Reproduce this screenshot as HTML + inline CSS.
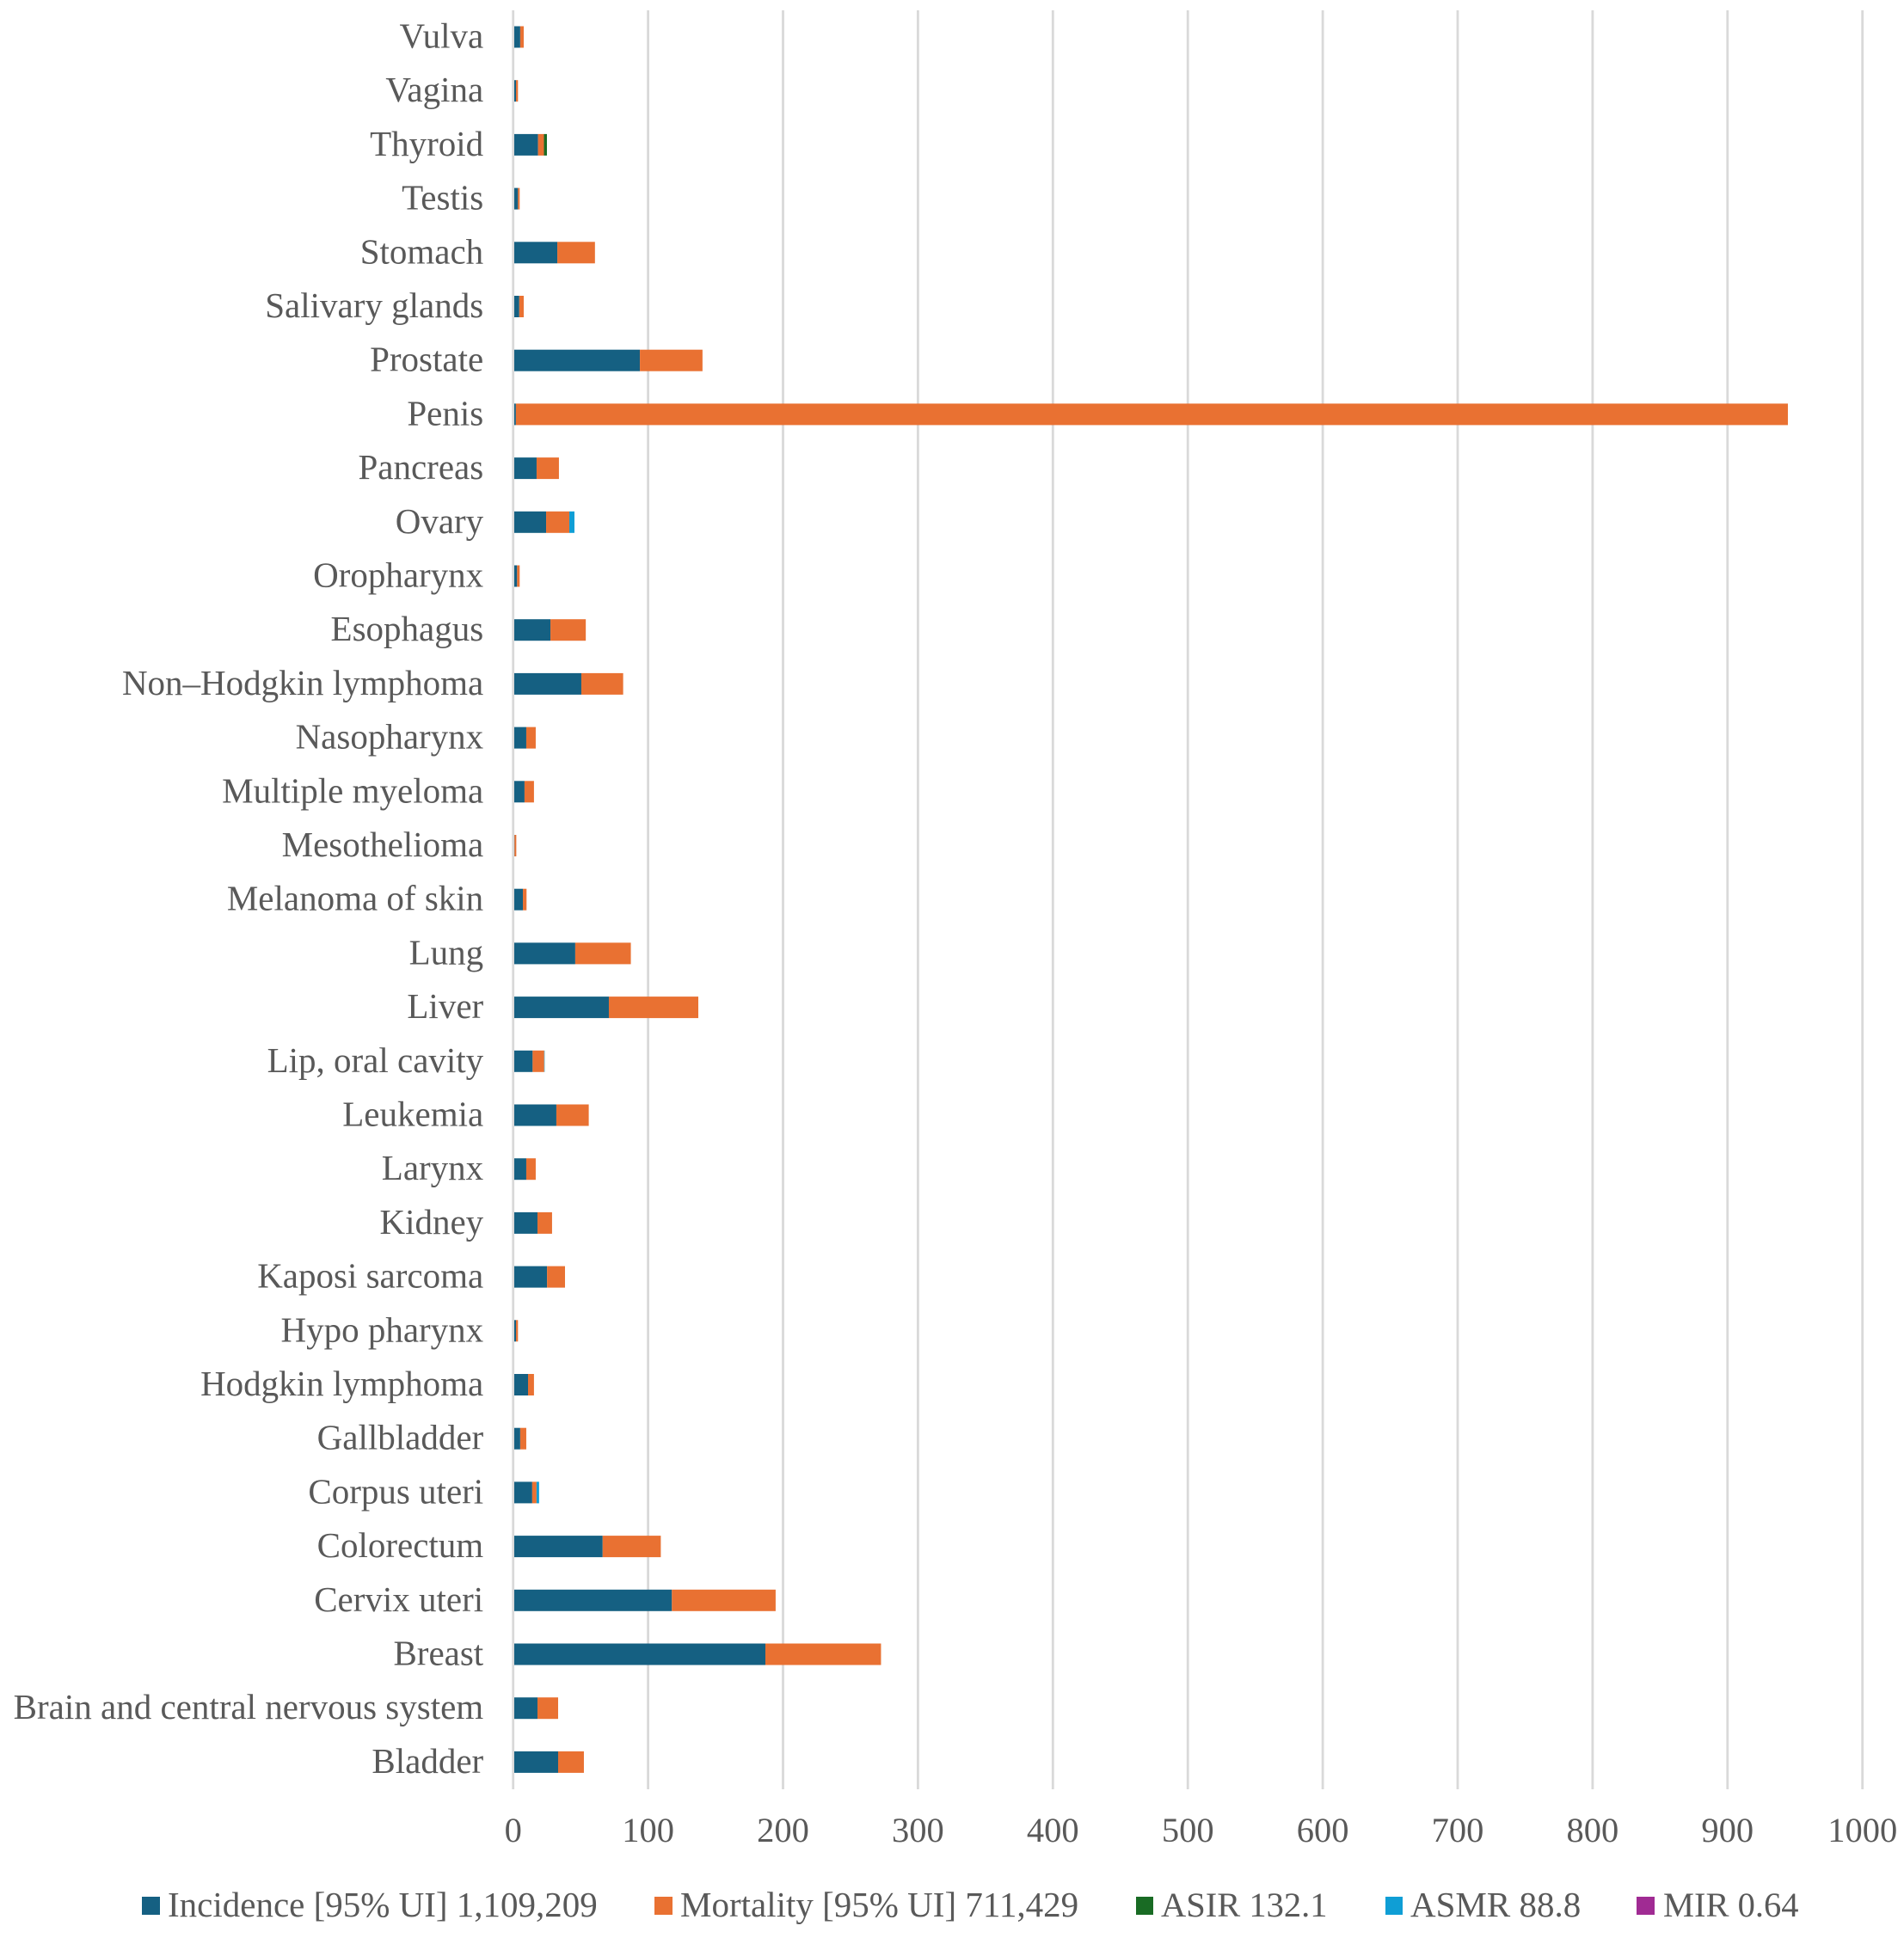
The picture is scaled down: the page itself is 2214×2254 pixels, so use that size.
<!DOCTYPE html>
<html lang="en">
<head>
<meta charset="utf-8">
<title>Cancer burden by site</title>
<style>
  html, body { margin: 0; padding: 0; background: #ffffff; }
  svg { display: block; }
  text { font-family: "Liberation Serif", serif; fill: #595959; font-size: 41px; white-space: pre; }
  #xLabels text { font-size: 40.5px; }
  text.legend-short { font-size: 40.5px; }
</style>
</head>
<body>
<svg id="chart" xmlns="http://www.w3.org/2000/svg" width="2214" height="2254" viewBox="0 0 2214 2254">
  <rect x="0" y="0" width="2214" height="2254" fill="#ffffff"/>
  <g id="grid"></g>
  <g id="bars"></g>
  <g id="yLabels"></g>
  <g id="xLabels"></g>
  <g>
    <g>
      <rect x="165" y="2206" width="21" height="21" fill="#156082"/>
      <text x="195" y="2229">Incidence [95% UI] 1,109,209</text>
    </g>
    <g>
      <rect x="761" y="2206" width="21" height="21" fill="#E97132"/>
      <text x="791" y="2229">Mortality [95% UI] 711,429</text>
    </g>
    <g>
      <rect x="1321" y="2206" width="20" height="21" fill="#196B24"/>
      <text class="legend-short" x="1350" y="2229">ASIR 132.1</text>
    </g>
    <g>
      <rect x="1611" y="2206" width="20" height="21" fill="#0F9ED5"/>
      <text x="1640" y="2229">ASMR 88.8</text>
    </g>
    <g>
      <rect x="1903" y="2206" width="21" height="21" fill="#A02B93"/>
      <text class="legend-short" x="1934" y="2229">MIR 0.64</text>
    </g>
  </g>
</svg>
<script>
const categories = ["Vulva","Vagina","Thyroid","Testis","Stomach","Salivary glands","Prostate","Penis","Pancreas","Ovary","Oropharynx","Esophagus","Non\u2013Hodgkin lymphoma","Nasopharynx","Multiple myeloma","Mesothelioma","Melanoma of skin","Lung","Liver","Lip, oral cavity","Leukemia","Larynx","Kidney","Kaposi sarcoma","Hypo pharynx","Hodgkin lymphoma","Gallbladder","Corpus uteri","Colorectum","Cervix uteri","Breast","Brain and central nervous system","Bladder"];
const incidence = [4.4,1.3,17.6,2.75,31.9,3.7,93.1,1.2,16.55,23.6,2.1,26.8,49.7,8.9,7.6,0.2,6.4,45.2,70.1,13.6,31.2,8.9,17.2,24.3,1.3,10.2,4.4,13.3,65.5,116.8,186.1,17.2,32.5];
const mortality = [2.6,1.45,4.4,1.25,27.9,3.3,46.4,942.7,16.55,17.2,1.9,26.2,31,7,7,1.3,2.7,41.2,66.3,8.6,24,7,10.8,13.3,1.45,4.4,4.5,3.2,43.1,76.9,85.7,15.3,19.1];
const asir = [0,0,2.2,0,0,0,0,0,0,0,0,0,0,0,0,0,0,0,0,0,0,0,0,0,0,0,0,0,0,0,0,0,0];
const asmr = [0,0,0,0,0,0,0,0,0,3.8,0,0,0,0,0,0,0,0,0,0.3,0,0,0,0,0,0,0,1.9,0,0,0,0,0];
const mir = [0,0,0,0,0,0,0,0,0,0,0,0,0,0,0,0,0,0,0,0,0,0,0,0,0,0,0,0,0,0,0,0,0];
const xTicks = [0,100,200,300,400,500,600,700,800,900,1000];
const seriesNames = ["incidence","mortality","asir","asmr","mir"];
const seriesValues = [incidence, mortality, asir, asmr, mir];
const seriesColors = ["#156082","#E97132","#196B24","#0F9ED5","#A02B93"];

const NS = "http://www.w3.org/2000/svg";
const plot = { x0: 596.7, unit: 1.569, barInset: 1.3, firstRow: 43, rowStep: 62.7, barH: 25, gridTop: 12, gridBottom: 2081, labelRight: 562.2, labelDrop: 12.5, tickBaseline: 2142 };
function xScale(v) { return plot.x0 + v * plot.unit; }
function yScale(i) { return plot.firstRow + i * plot.rowStep; }
function slug(s) { return s.trim().toLowerCase().replace(/[^a-z0-9]+/g, "-"); }

const grid = document.getElementById("grid");
const bars = document.getElementById("bars");
const yLabels = document.getElementById("yLabels");
const xLabels = document.getElementById("xLabels");

xTicks.forEach(function (t) {
  const line = document.createElementNS(NS, "line");
  line.setAttribute("x1", xScale(t));
  line.setAttribute("x2", xScale(t));
  line.setAttribute("y1", plot.gridTop);
  line.setAttribute("y2", plot.gridBottom);
  line.setAttribute("stroke", "#d9d9d9");
  line.setAttribute("stroke-width", "2.8");
  
  
  grid.appendChild(line);

  const label = document.createElementNS(NS, "text");
  label.setAttribute("x", xScale(t));
  label.setAttribute("y", plot.tickBaseline);
  label.setAttribute("text-anchor", "middle");
  label.textContent = String(t);
  
  
  xLabels.appendChild(label);
});

categories.forEach(function (cat, i) {
  const label = document.createElementNS(NS, "text");
  label.setAttribute("x", plot.labelRight);
  label.setAttribute("y", yScale(i) + plot.labelDrop);
  label.setAttribute("text-anchor", "end");
  label.textContent = cat;
  
  
  yLabels.appendChild(label);

  let total = 0;
  seriesValues.forEach(function (values, s) {
    const v = values[i];
    if (v > 0) {
      const rect = document.createElementNS(NS, "rect");
      rect.setAttribute("x", xScale(total) + plot.barInset);
      rect.setAttribute("y", yScale(i) - plot.barH / 2);
      rect.setAttribute("width", xScale(v) - xScale(0));
      rect.setAttribute("height", plot.barH);
      rect.setAttribute("fill", seriesColors[s]);
      
      
      bars.appendChild(rect);
    }
    total += v;
  });
});
</script>
</body>
</html>
